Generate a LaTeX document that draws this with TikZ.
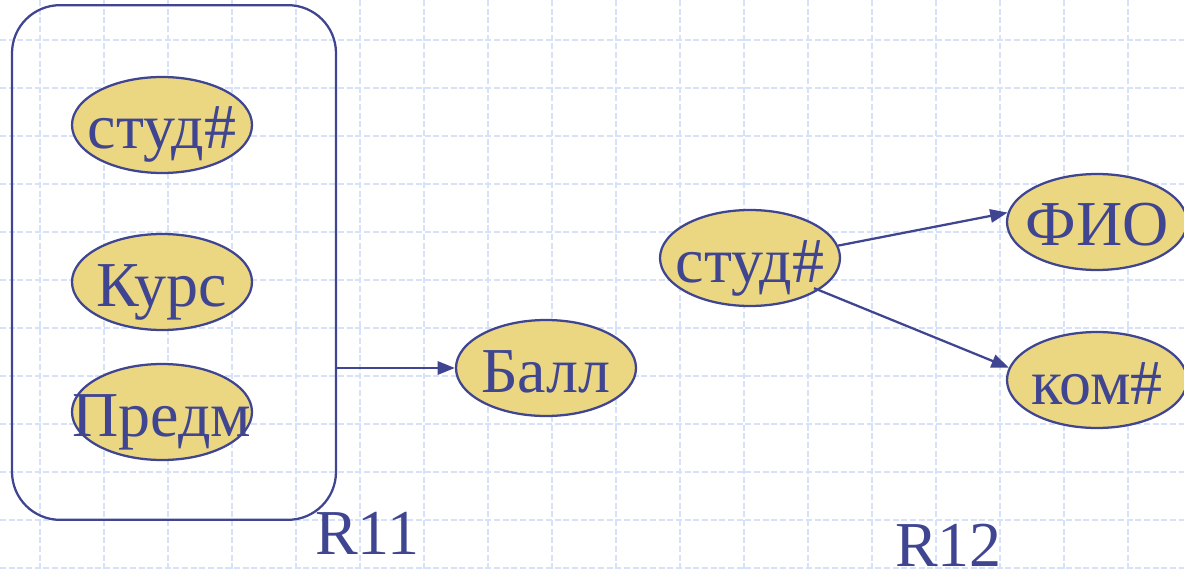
\documentclass[tikz,border=0pt]{standalone}
\usepackage{fontspec}
\setmainfont{Liberation Serif}
\usetikzlibrary{shapes.geometric,arrows.meta}
\definecolor{navy}{HTML}{3F4590}
\definecolor{sand}{HTML}{EBD682}
\definecolor{gridc}{HTML}{D6E2FA}
\newcommand{\zw}[1]{\makebox[0pt]{#1}}
\begin{document}
\begin{tikzpicture}[x=0.75pt,y=-0.75pt,
  attr/.style={ellipse, draw=navy, fill=sand, line width=1.7pt,
    minimum width=135pt, minimum height=72pt, inner sep=0pt, text=navy,
    font=\fontsize{48}{56}\selectfont, text height=36pt, text depth=0pt},
  conn/.style={draw=navy, line width=1.7pt, -{Triangle[length=13pt,width=10pt]}},
  lbl/.style={text=navy, font=\fontsize{48}{56}\selectfont, anchor=base west, inner sep=0pt},
  gridline/.style={draw=gridc, line width=1.5pt, dash pattern=on 4.5pt off 2pt}]
\useasboundingbox (0,0) rectangle (1184,570);
\foreach \x in {40,104,...,1128} \draw[gridline] (\x,0) -- (\x,570);
\foreach \y in {40,88,...,568} \draw[gridline] (0,\y) -- (1184,\y);

\node[draw=navy, line width=1.7pt, rounded corners=36pt, minimum width=243pt,
  minimum height=386pt, inner sep=0pt, outer sep=0pt] (box) at (174,262.5) {};

\node[attr] (s1) at (162,125) {\zw{студ\#}};
\node[attr] (kurs) at (162,282) {\zw{Курс}};
\node[attr] (predm) at (162,412) {\zw{Предм}};
\node[attr] (ball) at (546,368) {\zw{Балл}};
\node[attr] (s2) at (750,258) {\zw{студ\#}};
\node[attr] (fio) at (1097,222) {\zw{ФИО}};
\node[attr] (kom) at (1097,380) {\zw{ком\#}};

\draw[conn] (box.east |- ball.west) -- (ball.west);
\draw[conn] (s2.8) -- (fio.174);
\draw[conn, shorten <=-4pt] (s2.-25) -- (kom.172);

\node[lbl] (r11) at (315,554) {R11};
\node[lbl] (r12) at (895,566) {R12};
\end{tikzpicture}
\end{document}
